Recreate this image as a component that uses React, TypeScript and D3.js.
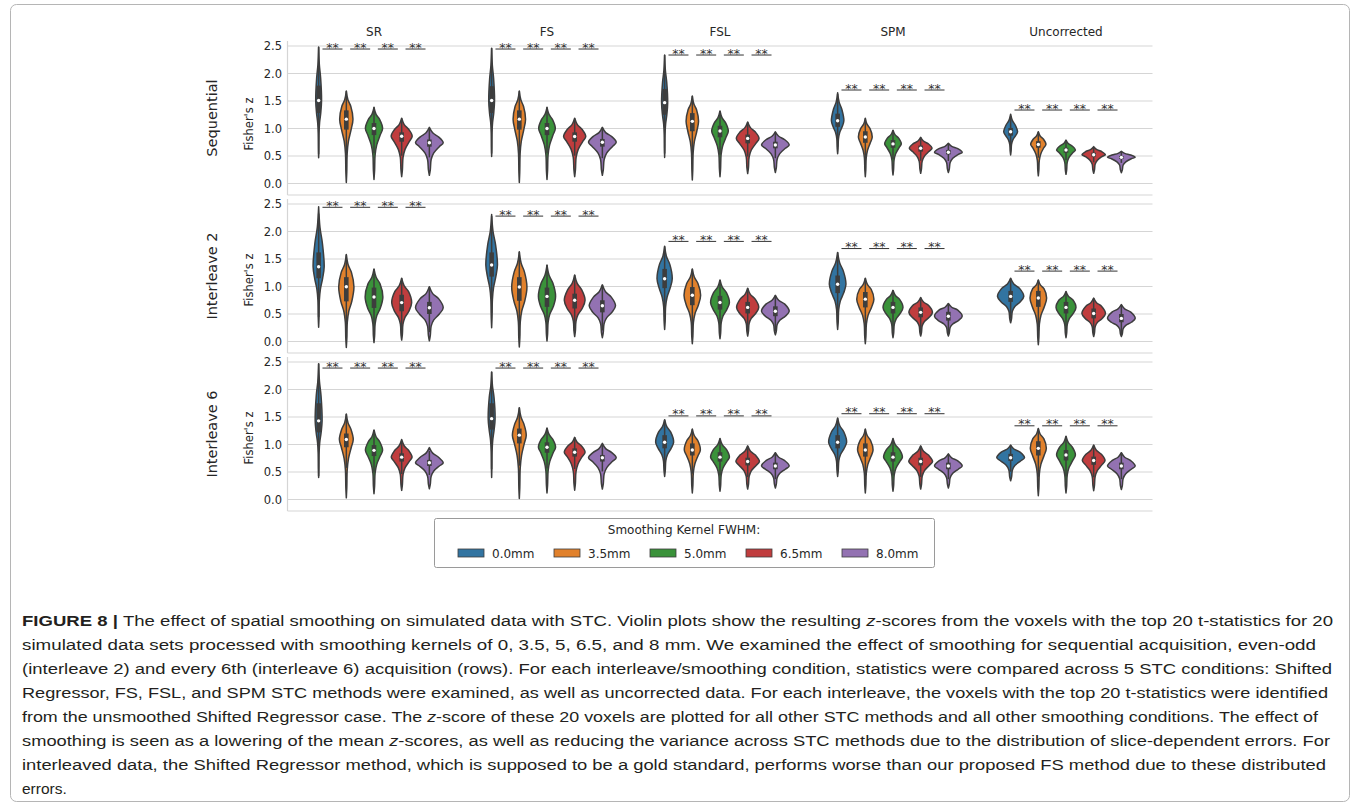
import React, { useEffect } from "react";
import * as d3 from "d3";

// ---- data ----------------------------------------------------------------
const methods = ["SR", "FS", "FSL", "SPM", "Uncorrected"];
const kernels = ["0.0mm", "3.5mm", "5.0mm", "6.5mm", "8.0mm"];
const acquisitions = ["Sequential", "Interleave 2", "Interleave 6"];
const yTicks = [0, 0.5, 1, 1.5, 2, 2.5];

// Each violin: [min, q1, median, q3, max, relative peak density]
const sequentialStats = [
  [[0.47, 1.28, 1.51, 1.78, 2.48, 0.21], [0.02, 0.98, 1.17, 1.33, 1.68, 0.48], [0.075, 0.88, 1.0, 1.1, 1.385, 0.62], [0.125, 0.76, 0.86, 0.93, 1.185, 0.76], [0.15, 0.67, 0.74, 0.8, 1.02, 1.0]],
  [[0.49, 1.28, 1.51, 1.77, 2.46, 0.21], [0.02, 0.98, 1.17, 1.33, 1.68, 0.45], [0.075, 0.88, 1.0, 1.1, 1.385, 0.6], [0.125, 0.76, 0.855, 0.93, 1.185, 0.8], [0.15, 0.67, 0.75, 0.81, 1.02, 1.0]],
  [[0.475, 1.25, 1.47, 1.72, 2.336, 0.22], [0.064, 0.95, 1.13, 1.28, 1.59, 0.45], [0.125, 0.84, 0.955, 1.05, 1.318, 0.6], [0.18, 0.73, 0.82, 0.89, 1.118, 0.82], [0.2, 0.64, 0.7, 0.76, 0.94, 1.0]],
  [[0.54, 1.03, 1.14, 1.27, 1.65, 0.45], [0.125, 0.74, 0.845, 0.95, 1.185, 0.5], [0.155, 0.65, 0.72, 0.79, 0.97, 0.6], [0.185, 0.58, 0.64, 0.69, 0.84, 0.82], [0.2, 0.53, 0.567, 0.61, 0.73, 1.0]],
  [[0.52, 0.87, 0.94, 1.01, 1.26, 0.5], [0.14, 0.65, 0.71, 0.77, 0.94, 0.55], [0.167, 0.56, 0.61, 0.65, 0.79, 0.68], [0.185, 0.49, 0.524, 0.56, 0.67, 0.84], [0.196, 0.45, 0.476, 0.5, 0.585, 1.0]],
];

const interleave2Stats = [
  [[0.26, 1.15, 1.36, 1.62, 2.45, 0.4], [-0.11, 0.73, 0.995, 1.17, 1.58, 0.55], [-0.02, 0.61, 0.81, 0.98, 1.32, 0.64], [0.026, 0.55, 0.707, 0.85, 1.15, 0.72], [0.013, 0.5, 0.615, 0.72, 0.995, 1.0]],
  [[0.25, 1.18, 1.39, 1.62, 2.31, 0.42], [-0.1, 0.74, 0.99, 1.17, 1.63, 0.55], [0.01, 0.63, 0.82, 0.98, 1.39, 0.62], [0.09, 0.6, 0.75, 0.87, 1.21, 0.75], [0.07, 0.53, 0.65, 0.75, 1.03, 0.95]],
  [[0.22, 0.97, 1.14, 1.32, 1.73, 0.55], [-0.04, 0.66, 0.84, 0.99, 1.32, 0.6], [0.05, 0.58, 0.71, 0.83, 1.12, 0.68], [0.1, 0.51, 0.62, 0.72, 0.97, 0.8], [0.12, 0.46, 0.55, 0.64, 0.84, 1.0]],
  [[0.22, 0.88, 1.04, 1.2, 1.62, 0.6], [-0.04, 0.62, 0.77, 0.9, 1.15, 0.62], [0.07, 0.51, 0.62, 0.72, 0.93, 0.72], [0.1, 0.44, 0.53, 0.62, 0.8, 0.85], [0.1, 0.38, 0.46, 0.54, 0.69, 1.0]],
  [[0.34, 0.72, 0.82, 0.92, 1.15, 0.95], [-0.06, 0.63, 0.79, 0.92, 1.12, 0.6], [0.07, 0.51, 0.62, 0.72, 0.91, 0.72], [0.09, 0.42, 0.51, 0.6, 0.79, 0.85], [0.09, 0.35, 0.42, 0.5, 0.67, 1.0]],
];

const interleave6Stats = [
  [[0.4, 1.22, 1.43, 1.75, 2.47, 0.25], [0.03, 0.95, 1.09, 1.2, 1.555, 0.5], [0.105, 0.79, 0.894, 0.99, 1.265, 0.62], [0.166, 0.69, 0.77, 0.84, 1.09, 0.75], [0.196, 0.61, 0.667, 0.72, 0.944, 1.0]],
  [[0.4, 1.27, 1.47, 1.75, 2.32, 0.25], [0.02, 1.02, 1.17, 1.29, 1.67, 0.5], [0.12, 0.85, 0.95, 1.04, 1.3, 0.62], [0.17, 0.78, 0.86, 0.93, 1.13, 0.75], [0.19, 0.69, 0.76, 0.81, 1.02, 1.0]],
  [[0.42, 0.93, 1.04, 1.17, 1.45, 0.65], [0.12, 0.8, 0.9, 1.02, 1.28, 0.58], [0.15, 0.69, 0.77, 0.86, 1.11, 0.68], [0.19, 0.62, 0.69, 0.76, 0.975, 0.85], [0.21, 0.55, 0.61, 0.67, 0.85, 1.0]],
  [[0.42, 0.93, 1.04, 1.17, 1.48, 0.65], [0.12, 0.78, 0.9, 1.02, 1.28, 0.56], [0.15, 0.69, 0.77, 0.86, 1.11, 0.68], [0.19, 0.62, 0.69, 0.76, 0.975, 0.86], [0.21, 0.55, 0.61, 0.67, 0.83, 1.0]],
  [[0.34, 0.7, 0.76, 0.83, 0.99, 1.0], [0.07, 0.8, 0.93, 1.06, 1.29, 0.58], [0.12, 0.71, 0.81, 0.9, 1.15, 0.68], [0.16, 0.63, 0.71, 0.78, 0.99, 0.82], [0.18, 0.55, 0.61, 0.67, 0.85, 1.0]],
];

// Height of the "**" significance brackets per method
const sequentialSig = [2.445, 2.445, 2.336, 1.7, 1.336];
const interleave2Sig = [2.44, 2.28, 1.82, 1.69, 1.28];
const interleave6Sig = [2.39, 2.39, 1.52, 1.56, 1.34];

const rowStats = [sequentialStats, interleave2Stats, interleave6Stats];
const rowSig = [sequentialSig, interleave2Sig, interleave6Sig];

const captionLines = [
  [["b", "FIGURE 8 | "], ["n", "The effect of spatial smoothing on simulated data with STC. Violin plots show the resulting "], ["i", "z"], ["n", "-scores from the voxels with the top 20 t-statistics for 20"]],
  [["n", "simulated data sets processed with smoothing kernels of 0, 3.5, 5, 6.5, and 8 mm. We examined the effect of smoothing for sequential acquisition, even-odd"]],
  [["n", "(interleave 2) and every 6th (interleave 6) acquisition (rows). For each interleave/smoothing condition, statistics were compared across 5 STC conditions: Shifted"]],
  [["n", "Regressor, FS, FSL, and SPM STC methods were examined, as well as uncorrected data. For each interleave, the voxels with the top 20 t-statistics were identified"]],
  [["n", "from the unsmoothed Shifted Regressor case. The "], ["i", "z"], ["n", "-score of these 20 voxels are plotted for all other STC methods and all other smoothing conditions. The effect of"]],
  [["n", "smoothing is seen as a lowering of the mean "], ["i", "z"], ["n", "-scores, as well as reducing the variance across STC methods due to the distribution of slice-dependent errors. For"]],
  [["n", "interleaved data, the Shifted Regressor method, which is supposed to be a gold standard, performs worse than our proposed FS method due to these distributed"]],
  [["n", "errors."]],
];
const captionEnds = [1333, 1316, 1332, 1328, 1318, 1330, 1326, 0];

// ---- styling -------------------------------------------------------------
const W = 1360;
const H = 806;
const palette = ["#3274a1", "#e1812c", "#3a923a", "#c03d3e", "#9372b2"];
const edge = "#3d3d3d";
const gridColor = "#d5d5d5";
const textColor = "#262626";
const axisFont = "DejaVu Sans, sans-serif";

const plotLeft = 287.5;
const plotRight = 1152.5;
const rowTops = [41, 199, 357];
const rowHeight = 154;

const xGroup = d3.scaleBand<string>().domain(methods).range([plotLeft, plotRight]).paddingInner(0).paddingOuter(0);
const xHue = d3.scaleBand<string>().domain(kernels).range([0, xGroup.bandwidth() * 0.8]);

function yScaleFor(row: number) {
  const top = rowTops[row];
  return d3.scaleLinear().domain([-0.209, 2.591]).range([top + rowHeight, top]);
}

function violinShape(s: number[], cx: number, y: d3.ScaleLinear<number, number>) {
  const [lo, q1, med, q3, hi, dens] = s;
  const hw = (xHue.bandwidth() / 2) * dens;
  const profile: [number, number][] = [
    [hi, 0],
    [q3 + 0.55 * (hi - q3), 0.24],
    [q3 + 0.2 * (hi - q3), 0.68],
    [med, 1],
    [q1, 0.72],
    [q1 - 0.22 * (q1 - lo), 0.32],
    [q1 - 0.45 * (q1 - lo), 0.13],
    [lo + 0.2 * (q1 - lo), 0.07],
    [lo, 0],
  ];
  const area = d3
    .area<[number, number]>()
    .y((p) => y(p[0]))
    .x0((p) => cx - p[1] * hw)
    .x1((p) => cx + p[1] * hw)
    .curve(d3.curveCatmullRom.alpha(0.5));
  return area(profile) || "";
}

function Violin({ s, cx, y, color }: { s: number[]; cx: number; y: d3.ScaleLinear<number, number>; color: string }) {
  const [lo, q1, med, q3, hi] = s;
  const iqr = q3 - q1;
  const wLo = Math.max(lo, q1 - 1.5 * iqr);
  const wHi = Math.min(hi, q3 + 1.5 * iqr);
  return (
    <g>
      <path d={violinShape(s, cx, y)} fill={color} stroke={edge} strokeWidth={1.5} strokeLinejoin="round" />
      <line x1={cx} x2={cx} y1={y(wLo)} y2={y(wHi)} stroke={edge} strokeWidth={1.5} />
      <line x1={cx} x2={cx} y1={y(q1)} y2={y(q3)} stroke={edge} strokeWidth={4.6} />
      <circle cx={cx} cy={y(med)} r={1.7} fill="#ffffff" />
    </g>
  );
}

function Row({ row }: { row: number }) {
  const y = yScaleFor(row);
  const top = rowTops[row];
  const bottom = top + rowHeight;
  const stats = rowStats[row];
  const sig = rowSig[row];
  const mid = (top + bottom) / 2;
  const hueStep = xHue.step();
  return (
    <g>
      {yTicks.map((t) => (
        <g key={t}>
          <line x1={plotLeft} x2={plotRight} y1={y(t)} y2={y(t)} stroke={gridColor} strokeWidth={1} />
          <text x={282} y={y(t)} dy="0.36em" textAnchor="end" fontSize={11.5} fill={textColor} fontFamily={axisFont}>
            {t.toFixed(1)}
          </text>
        </g>
      ))}
      <line x1={plotLeft} x2={plotLeft} y1={top} y2={bottom} stroke={gridColor} strokeWidth={1.2} />
      <line x1={plotLeft} x2={plotRight} y1={bottom} y2={bottom} stroke={gridColor} strokeWidth={1.2} />
      <text
        transform={`translate(253, ${mid + (row === 0 ? 6 : 4)}) rotate(-90)`}
        textAnchor="middle"
        fontSize={11.5}
        fill={textColor}
        fontFamily={axisFont}
      >
        Fisher's z
      </text>
      <text
        transform={`translate(217, ${mid}) rotate(-90)`}
        textAnchor="middle"
        fontSize={14.5}
        fill={textColor}
        fontFamily={axisFont}
      >
        {acquisitions[row]}
      </text>
      {methods.map((m, gi) => {
        const g0 = (xGroup(m) as number) + xGroup.bandwidth() * 0.1;
        return (
          <g key={m}>
            {kernels.map((k, hi) => {
              const cx = g0 + (xHue(k) as number) + xHue.bandwidth() / 2;
              return <Violin key={k} s={stats[gi][hi]} cx={cx} y={y} color={palette[hi]} />;
            })}
            {kernels.slice(0, 4).map((k, hi) => {
              const cx = g0 + (xHue(k) as number) + xHue.bandwidth() / 2 + hueStep / 2;
              const ly = y(sig[gi]);
              return (
                <g key={"sig" + k}>
                  <line x1={cx - 10} x2={cx + 10} y1={ly} y2={ly} stroke="#333" strokeWidth={1} />
                  <text x={cx} y={ly + 2.5} textAnchor="middle" fontSize={12.5} fill="#333" fontFamily={axisFont}>
                    **
                  </text>
                </g>
              );
            })}
          </g>
        );
      })}
    </g>
  );
}

function Legend() {
  const left = 434;
  const top = 518;
  const width = 500;
  const height = 49;
  const startX = 458;
  const step = 96;
  return (
    <g>
      <rect x={left + 0.5} y={top + 0.5} width={width} height={height} fill="#fff" stroke="#9a9a9a" strokeWidth={1} rx={2} />
      <text x={left + width / 2} y={top + 16} textAnchor="middle" fontSize={12} fill={textColor} fontFamily={axisFont}>
        Smoothing Kernel FWHM:
      </text>
      {kernels.map((k, i) => (
        <g key={k}>
          <rect x={startX + i * step} y={top + 31} width={26} height={8} fill={palette[i]} stroke={edge} strokeWidth={0.8} />
          <text x={startX + i * step + 34} y={top + 39.5} fontSize={12} fill={textColor} fontFamily={axisFont}>
            {k}
          </text>
        </g>
      ))}
    </g>
  );
}

function Caption() {
  const x0 = 22;
  const base0 = 626;
  const lh = 24;
  return (
    <g fontFamily="Liberation Sans, Arial, sans-serif" fontSize={15.5} fill="#231f20">
      {captionLines.map((parts, i) => (
        <text
          key={i}
          x={x0}
          y={base0 + i * lh}
          {...(captionEnds[i] > 0 ? { textLength: captionEnds[i] - x0, lengthAdjust: "spacingAndGlyphs" } : {})}
        >
          {parts.map((p, j) => (
            <tspan key={j} fontWeight={p[0] === "b" ? "bold" : "normal"} fontStyle={p[0] === "i" ? "italic" : "normal"}>
              {p[1]}
            </tspan>
          ))}
        </text>
      ))}
    </g>
  );
}

export default function App() {
  useEffect(() => {
    document.body.style.margin = "0";
  }, []);
  return (
    <svg width={W} height={H} viewBox={`0 0 ${W} ${H}`} style={{ display: "block", position: "absolute", left: 0, top: 0, background: "#fff" }}>
      <rect x={0} y={0} width={W} height={H} fill="#fff" />
      <rect x={10.5} y={4.5} width={1339} height={797} rx={6} fill="none" stroke="#b5b5b5" strokeWidth={1} />
      {methods.map((m) => (
        <text
          key={m}
          x={(xGroup(m) as number) + xGroup.bandwidth() / 2}
          y={36}
          textAnchor="middle"
          fontSize={12}
          fill={textColor}
          fontFamily={axisFont}
        >
          {m}
        </text>
      ))}
      {acquisitions.map((a, r) => (
        <Row key={a} row={r} />
      ))}
      <Legend />
      <Caption />
    </svg>
  );
}
